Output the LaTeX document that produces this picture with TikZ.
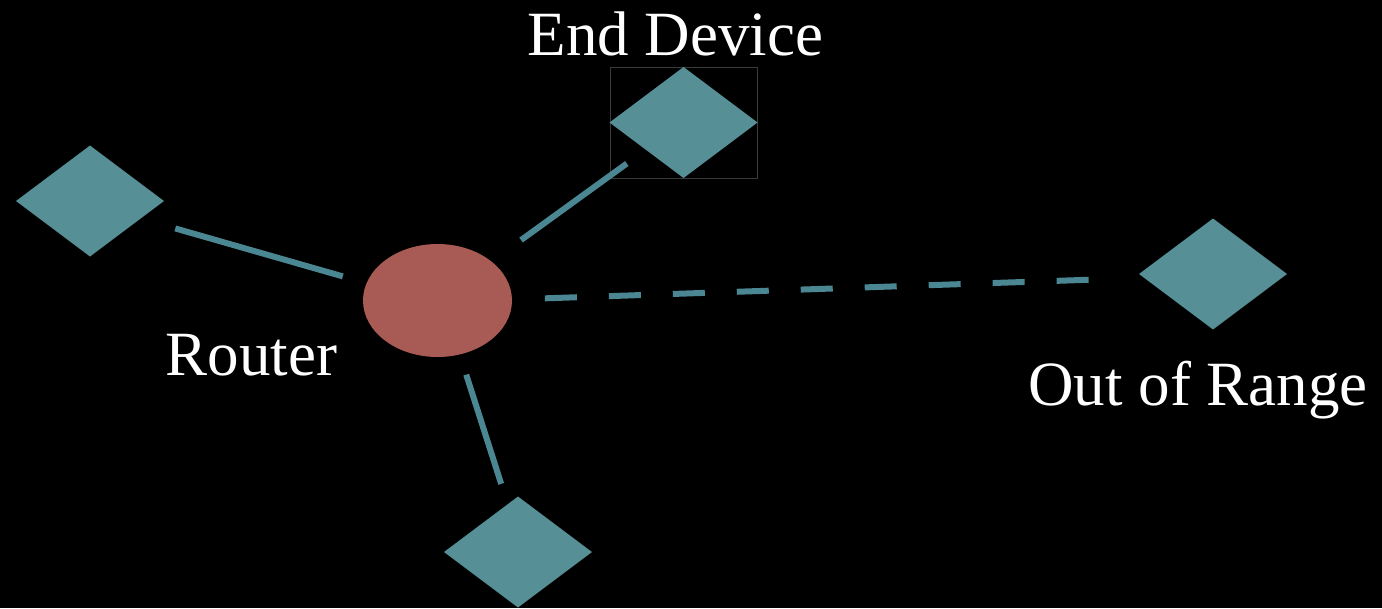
\documentclass[tikz,border=0pt]{standalone}
\usepackage{fontspec}
\setmainfont{Liberation Serif}
\usetikzlibrary{shapes.geometric}
\definecolor{devfill}{HTML}{568F96}
\definecolor{linkcol}{HTML}{4A8793}
\definecolor{routerfill}{HTML}{A85A55}
\definecolor{framecol}{HTML}{3A3A3A}
\begin{document}
\begin{tikzpicture}[x=1pt,y=-1pt,
  device/.style={diamond,fill=devfill,draw=none,aspect=1.33,
    minimum width=148pt,minimum height=111pt,inner sep=0pt,outer sep=0pt},
  router/.style={ellipse,fill=routerfill,draw=none,
    minimum width=149pt,minimum height=113pt,inner sep=0pt,outer sep=0pt},
  link/.style={draw=linkcol,line width=6pt},
  outlink/.style={link,dash pattern=on 32pt off 32pt},
  caption/.style={text=white,font=\fontsize{63}{70}\selectfont,anchor=base,inner sep=0pt}]
  % black canvas
  \fill[black] (0,0) rectangle (1382,608);
  \useasboundingbox (0,0) rectangle (1382,608);

  % frame around the end device
  \node[draw=framecol,line width=1pt,minimum width=147pt,minimum height=111pt,
        inner sep=0pt] (frame) at (683.5,122.5) {};

  % nodes
  \node[router] (R) at (437.5,300.5) {};
  \node[device] (L) at (90,201) {};
  \node[device] (E) at (683.5,122.5) {};
  \node[device] (B) at (518,552) {};
  \node[device] (O) at (1213,274) {};

  % links
  \draw[link,shorten <=33pt,shorten >=26pt,transform canvas={yshift=-3pt}] (L) -- (R);
  \draw[link,shorten <=36.6pt,shorten >=23.5pt] (R) -- (E);
  \draw[link,shorten <=20.2pt,shorten >=24.5pt,transform canvas={xshift=5pt}] (R) -- (B);
  \draw[outlink,shorten <=33pt,shorten >=52.4pt,transform canvas={yshift=-1.5pt}] (R) -- (O);

  % labels
  \node[caption] (tEnd) at (675.5,55) {End Device};
  \node[caption] (tRouter) at (251.5,375) {Router};
  \node[caption] (tOut) at (1198,405) {Out of Range};
\end{tikzpicture}
\end{document}
